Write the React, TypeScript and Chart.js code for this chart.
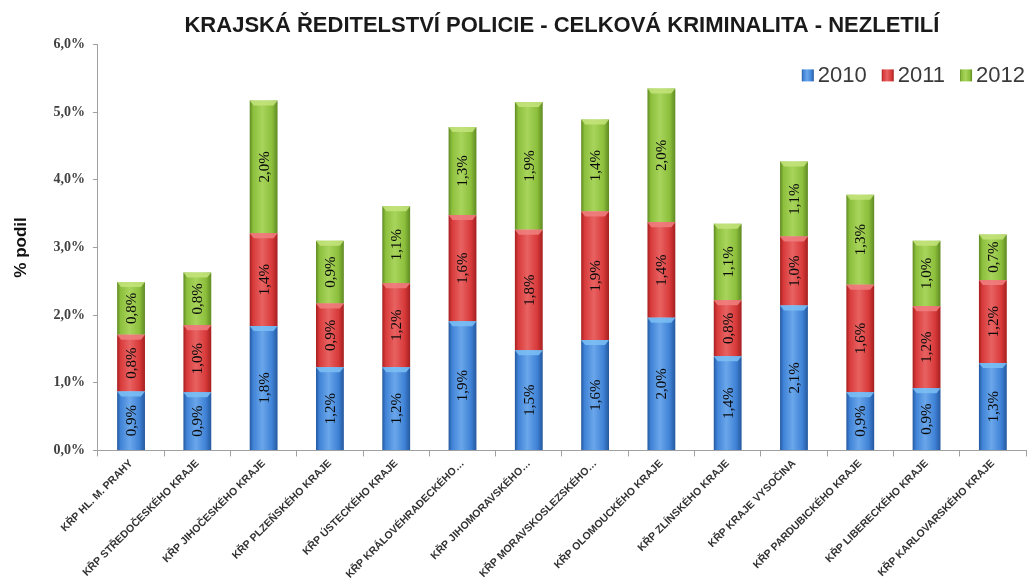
import { useEffect, useRef } from "react";
import { Chart, registerables } from "chart.js";
Chart.register(...registerables);

const titleText = "KRAJSKÁ ŘEDITELSTVÍ POLICIE - CELKOVÁ KRIMINALITA - NEZLETILÍ";
const yAxisTitle = "% podil";
const categories = [
  "KŘP HL. M. PRAHY",
  "KŘP STŘEDOČESKÉHO KRAJE",
  "KŘP JIHOČESKÉHO KRAJE",
  "KŘP PLZEŇSKÉHO KRAJE",
  "KŘP ÚSTECKÉHO KRAJE",
  "KŘP KRÁLOVÉHRADECKÉHO…",
  "KŘP JIHOMORAVSKÉHO…",
  "KŘP MORAVSKOSLEZSKÉHO…",
  "KŘP OLOMOUCKÉHO KRAJE",
  "KŘP ZLÍNSKÉHO KRAJE",
  "KŘP KRAJE VYSOČINA",
  "KŘP PARDUBICKÉHO KRAJE",
  "KŘP LIBERECKÉHO KRAJE",
  "KŘP KARLOVARSKÉHO KRAJE",
];
const seriesLabels = ["2010", "2011", "2012"];
const values2010 = [0.87, 0.86, 1.84, 1.23, 1.23, 1.91, 1.48, 1.63, 1.96, 1.39, 2.14, 0.86, 0.92, 1.29];
const values2011 = [0.84, 0.99, 1.37, 0.94, 1.24, 1.57, 1.78, 1.9, 1.41, 0.83, 1.02, 1.59, 1.21, 1.23];
const values2012 = [0.78, 0.78, 1.96, 0.93, 1.14, 1.3, 1.89, 1.36, 1.98, 1.13, 1.11, 1.33, 0.97, 0.67];
const yMin = 0;
const yMax = 6;
const yStep = 1;

const palettes = [
  { edge: "#24589e", mid: "#3f82d6", light: "#6aa6ea", top: "#7cc0f4" },
  { edge: "#a51f1f", mid: "#d83a3a", light: "#e86262", top: "#f08080" },
  { edge: "#5f8a22", mid: "#8cbf3c", light: "#a8d45c", top: "#c4e47c" },
];

const fmt = (v: number) => v.toFixed(1).replace(".", ",") + "%";

const gradient = (c: CanvasRenderingContext2D, p: any, x0: number, x1: number) => {
  const g = c.createLinearGradient(x0, 0, x1, 0);
  g.addColorStop(0, p.edge);
  g.addColorStop(0.12, p.mid);
  g.addColorStop(0.45, p.light);
  g.addColorStop(0.8, p.mid);
  g.addColorStop(1, p.edge);
  return g;
};

const makeBg = (p: any) => (ctx: any) => {
  if (ctx.type !== "data") return p.mid;
  const chart = ctx.chart;
  const xs = chart.scales && chart.scales.x;
  if (!xs || !xs.width) return p.mid;
  const cx = xs.getPixelForValue(ctx.dataIndex);
  const half = ((xs.width / categories.length) * 0.42) / 2;
  return gradient(chart.ctx, p, cx - half, cx + half);
};

const labelPlugin = {
  id: "segLabels",
  afterDatasetsDraw(chart: any) {
    const c = chart.ctx;
    chart.data.datasets.forEach((ds: any, di: number) => {
      const meta = chart.getDatasetMeta(di);
      meta.data.forEach((el: any, i: number) => {
        const { x, y, base, width } = el.getProps(["x", "y", "base", "width"], true);
        c.save();
        c.fillStyle = palettes[di].top;
        c.globalAlpha = 0.85;
        c.beginPath();
        c.moveTo(x - width / 2, y);
        c.lineTo(x + width / 2, y);
        c.lineTo(x + width / 2 - 4, y + 5);
        c.lineTo(x - width / 2 + 4, y + 5);
        c.closePath();
        c.fill();
        c.restore();
        const v = ds.data[i];
        c.save();
        c.translate(x, (y + base) / 2);
        c.rotate(-Math.PI / 2);
        c.font = "15px 'Liberation Serif'";
        c.fillStyle = "#0a0a0a";
        c.textAlign = "center";
        c.textBaseline = "middle";
        c.fillText(fmt(v), 0, 1);
        c.restore();
      });
    });
  },
};

const legendPlugin = {
  id: "customLegend",
  afterDraw(chart: any) {
    const c = chart.ctx;
    const area = chart.chartArea;
    c.save();
    c.font = "22px 'Liberation Sans'";
    c.textBaseline = "middle";
    const box = 12;
    const gapBox = 4;
    const gapItem = 15;
    const items = chart.data.datasets.map((d: any) => d.label);
    const widths = items.map((t: string) => box + gapBox + c.measureText(t).width);
    const total = widths.reduce((a: number, b: number) => a + b, 0) + gapItem * (items.length - 1);
    let x = area.right - 1 - total;
    const yc = area.top + 31;
    items.forEach((t: string, i: number) => {
      const p = palettes[i];
      c.fillStyle = gradient(c, p, x, x + box);
      c.fillRect(x, yc - box / 2, box, box);
      c.fillStyle = "#3a3a3a";
      c.fillText(t, x + box + gapBox, yc + 1);
      x += widths[i] + gapItem;
    });
    c.restore();
  },
};

export default function App() {
  const ref = useRef<HTMLCanvasElement>(null);
  useEffect(() => {
    if (!ref.current) return;
    const series = [values2010, values2011, values2012];
    const chart = new Chart(ref.current, {
      type: "bar",
      data: {
        labels: categories,
        datasets: series.map((d, i) => ({
          label: seriesLabels[i],
          data: d,
          backgroundColor: makeBg(palettes[i]),
          borderWidth: 0,
          categoryPercentage: 1,
          barPercentage: 0.42,
        })),
      },
      options: {
        animation: false,
        responsive: true,
        maintainAspectRatio: false,
        layout: { padding: { left: 11, right: 2, top: 2, bottom: 0 } },
        plugins: {
          title: {
            display: true,
            fullSize: false,
            text: titleText,
            font: { family: "'Liberation Sans'", size: 22, weight: "bold" },
            color: "#1a1a1a",
            padding: { top: 11, bottom: 5 },
          },
          legend: { display: false },
          tooltip: { enabled: false },
        },
        scales: {
          x: {
            stacked: true,
            grid: { drawOnChartArea: false, tickLength: 6, color: "#a0a0a0" },
            border: { color: "#a0a0a0" },
            ticks: {
              autoSkip: false,
              minRotation: 45,
              maxRotation: 45,
              padding: 1,
              font: { family: "'Liberation Sans'", size: 10.5, weight: "bold" },
              color: "#333",
            },
          },
          y: {
            stacked: true,
            min: yMin,
            max: yMax,
            ticks: {
              stepSize: yStep,
              callback: (v: any) => fmt(Number(v)),
              font: { family: "'Liberation Serif'", size: 14, weight: "bold" },
              color: "#404040",
              padding: 8,
            },
            grid: { drawOnChartArea: false, tickLength: 5, color: "#a0a0a0" },
            border: { color: "#a0a0a0" },
            title: {
              display: true,
              text: yAxisTitle,
              font: { family: "'Liberation Sans'", size: 17, weight: "bold" },
              color: "#111",
              padding: { top: 0, bottom: 14 },
            },
          },
        },
      },
      plugins: [labelPlugin, legendPlugin],
    });
    return () => chart.destroy();
  }, []);
  return (
    <div style={{ position: "absolute", left: 0, top: 0, width: 1028, height: 582, background: "#fff" }}>
      <canvas ref={ref} />
    </div>
  );
}
